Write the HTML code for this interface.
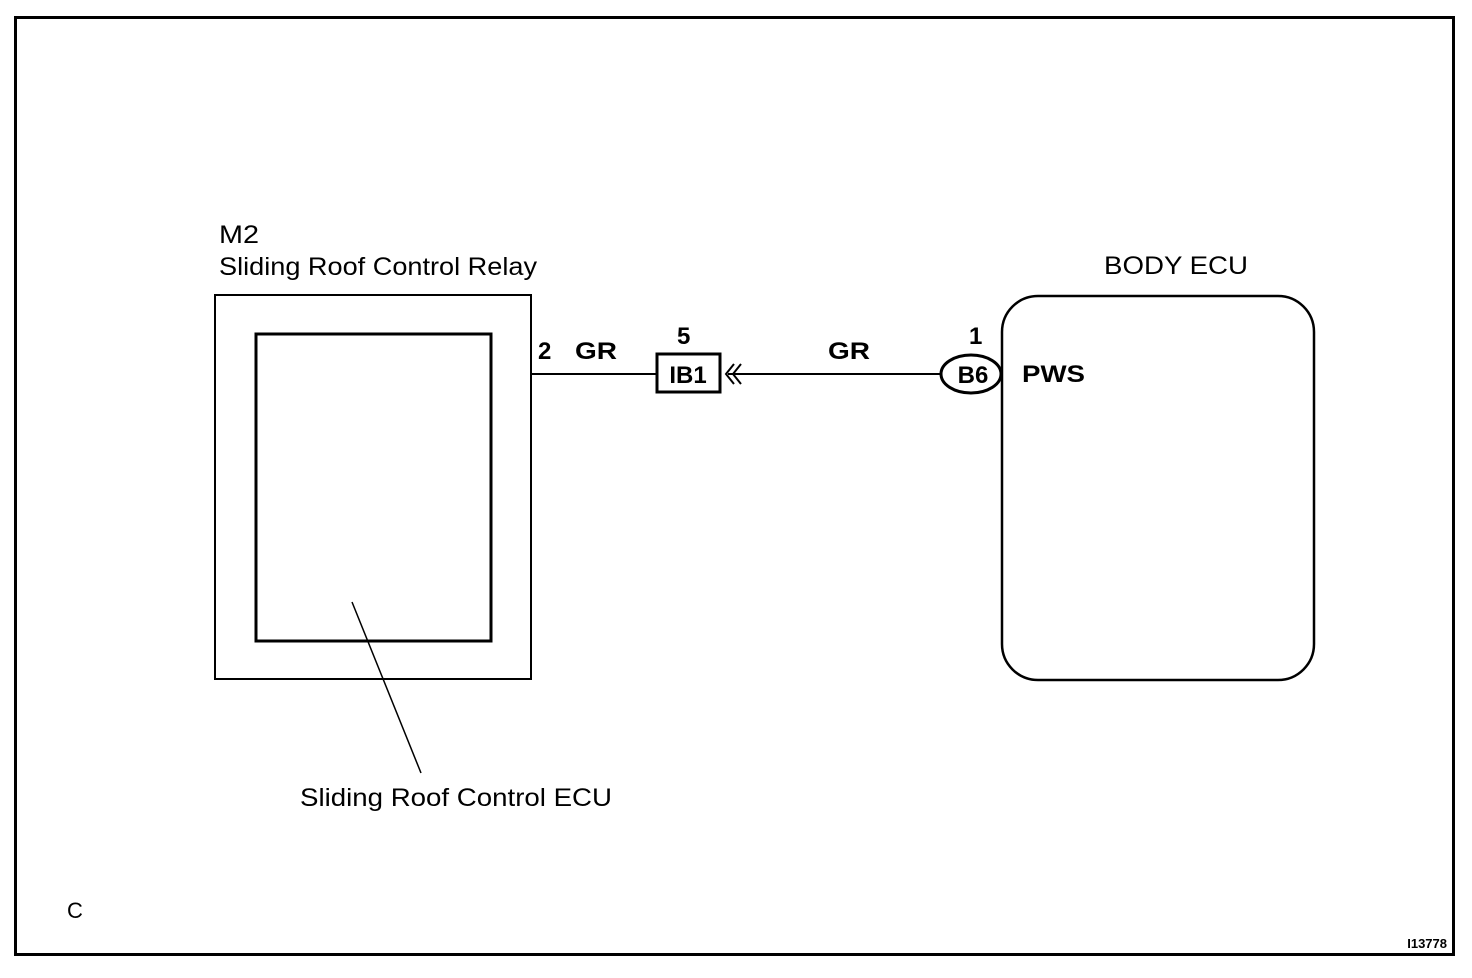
<!DOCTYPE html>
<html><head><style>body{margin:0;background:#fff}svg{display:block}text{font-family:"Liberation Sans",Arial,sans-serif;fill:#000}</style></head>
<body>
<svg width="1472" height="978" viewBox="0 0 1472 978">
<rect x="15.5" y="17.5" width="1438" height="937" fill="none" stroke="#000" stroke-width="3"/>
<text x="219" y="243" font-size="25" textLength="40" lengthAdjust="spacingAndGlyphs">M2</text>
<text x="219" y="275" font-size="25" textLength="318" lengthAdjust="spacingAndGlyphs">Sliding Roof Control Relay</text>
<rect x="215" y="295" width="316" height="384" fill="none" stroke="#000" stroke-width="2"/>
<rect x="256" y="334" width="235" height="307" fill="none" stroke="#000" stroke-width="3"/>
<line x1="352" y1="602" x2="421" y2="773" stroke="#000" stroke-width="1.5"/>
<text x="300" y="806" font-size="25" textLength="312" lengthAdjust="spacingAndGlyphs">Sliding Roof Control ECU</text>
<text x="538" y="359" font-size="24" font-weight="bold">2</text>
<text x="575" y="359" font-size="24" font-weight="bold" textLength="42" lengthAdjust="spacingAndGlyphs">GR</text>
<line x1="531" y1="374" x2="657" y2="374" stroke="#000" stroke-width="2"/>
<text x="677" y="344" font-size="24" font-weight="bold">5</text>
<rect x="657" y="354" width="63" height="38" fill="none" stroke="#000" stroke-width="3"/>
<text x="688" y="383" font-size="24" font-weight="bold" text-anchor="middle">IB1</text>
<polyline points="734,364 726,374 734,384" fill="none" stroke="#000" stroke-width="2"/>
<polyline points="741,364 733,374 741,384" fill="none" stroke="#000" stroke-width="2"/>
<line x1="728" y1="374" x2="941" y2="374" stroke="#000" stroke-width="2"/>
<text x="828" y="359" font-size="24" font-weight="bold" textLength="42" lengthAdjust="spacingAndGlyphs">GR</text>
<text x="969" y="344" font-size="24" font-weight="bold">1</text>
<ellipse cx="971" cy="374" rx="30" ry="19" fill="#fff" stroke="#000" stroke-width="3"/>
<text x="973" y="383" font-size="24" font-weight="bold" text-anchor="middle">B6</text>
<text x="1104" y="274" font-size="25" textLength="144" lengthAdjust="spacingAndGlyphs">BODY ECU</text>
<rect x="1002" y="296" width="312" height="384" rx="36" fill="none" stroke="#000" stroke-width="2.5"/>
<text x="1022" y="382" font-size="24" font-weight="bold" textLength="63" lengthAdjust="spacingAndGlyphs">PWS</text>
<text x="67" y="918" font-size="22">C</text>
<text x="1447" y="948" font-size="13" font-weight="bold" text-anchor="end">I13778</text>
</svg>
</body></html>
